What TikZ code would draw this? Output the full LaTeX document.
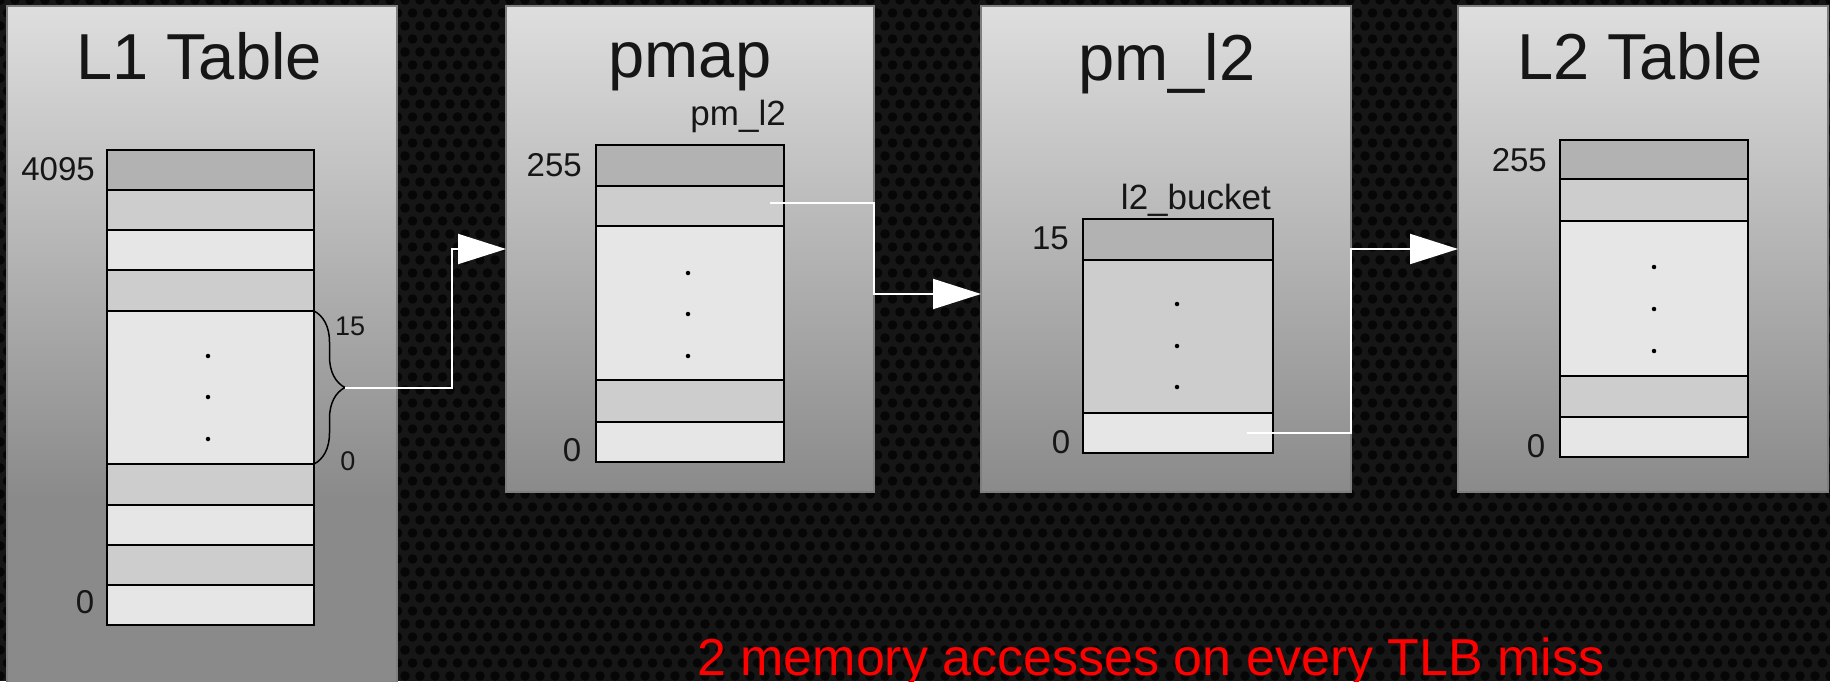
\documentclass[tikz,border=0pt]{standalone}
\usepackage{fontspec}
\setmainfont{Liberation Sans}
\usetikzlibrary{arrows.meta,decorations.pathreplacing,calc}

\definecolor{bgdark}{HTML}{161616}
\definecolor{meshhole}{HTML}{060606}
\definecolor{paneltop}{HTML}{DEDEDE}
\definecolor{panelbot}{HTML}{8A8A8A}
\definecolor{paneledge}{HTML}{7E7E7E}
\definecolor{celldark}{HTML}{B2B2B2}
\definecolor{cellmid}{HTML}{CDCDCD}
\definecolor{celllight}{HTML}{E6E6E6}
\definecolor{labelink}{HTML}{161616}
\definecolor{alertred}{HTML}{FF0000}

% the tall first panel fades to grey by the usual panel bottom, then stays flat
\pgfdeclareverticalshading{longpanel}{100bp}{color(0bp)=(panelbot); color(25bp)=(panelbot); color(39bp)=(panelbot); color(75bp)=(paneltop); color(100bp)=(paneltop)}

% one table row: name, x-left, x-right, y-top, y-bottom, fill
\newcommand\tabcell[6]{%
  \node[cell, fill=#6, minimum width={#3-#2}, minimum height={#5-#4}] (#1) at ({(#2+#3)/2},{(#4+#5)/2}) {};}

\tikzset{
  panel/.style={draw=paneledge, line width=1.2pt, inner sep=0pt, outer sep=0pt},
  cell/.style={draw=black, line width=2pt, inner sep=0pt, outer sep=0pt},
  title/.style={font=\fontsize{65}{65}\selectfont, text=labelink, inner sep=0pt, anchor=base},
  idx/.style={font=\fontsize{33}{33}\selectfont, text=labelink, inner sep=0pt},
  smallidx/.style={font=\fontsize{27}{27}\selectfont, text=labelink, inner sep=0pt},
  field/.style={font=\fontsize{35}{35}\selectfont, text=labelink, inner sep=0pt, anchor=base east},
  vdot/.style={circle, fill=black, inner sep=0pt, minimum size=4.5pt},
  conn/.style={draw=white, line width=2pt, -{Triangle[length=48pt,width=30pt,fill=white]}},
}

\begin{document}
\begin{tikzpicture}[x=1pt, y=-1pt]
\useasboundingbox (0,0) rectangle (1830,681);

% perforated dark backdrop
\fill[bgdark] (0,0) rectangle (1830,681);
\foreach \r in {0,...,53}{
  \foreach \c in {0,...,122}{
    \fill[meshhole] ({\c*15+mod(\r,2)*7.5},{\r*13}) circle (4.8);
  }
}

% panels
\node[panel, shading=longpanel, minimum width=390, minimum height=684] (l1P) at (202,348) {};
\node[panel, top color=paneltop, bottom color=panelbot, minimum width=368, minimum height=486] (pmapP) at (690,249) {};
\node[panel, top color=paneltop, bottom color=panelbot, minimum width=370, minimum height=486] (pml2P) at (1166,249) {};
\node[panel, top color=paneltop, bottom color=panelbot, minimum width=370, minimum height=486] (l2P) at (1643,249) {};

% titles
\node[title] (l1T) at (199,79) {L1 Table};
\node[title] (pmapT) at (690,77) {pmap};
\node[title] (pml2T) at (1167,80) {pm\_l2};
\node[title] (l2T) at (1640,79) {L2 Table};

% L1 table
\tabcell{a1}{107}{314}{150}{190}{celldark}
\tabcell{a2}{107}{314}{190}{230}{cellmid}
\tabcell{a3}{107}{314}{230}{270}{celllight}
\tabcell{a4}{107}{314}{270}{311}{cellmid}
\tabcell{a5}{107}{314}{311}{464}{celllight}
\tabcell{a6}{107}{314}{464}{505}{cellmid}
\tabcell{a7}{107}{314}{505}{545}{celllight}
\tabcell{a8}{107}{314}{545}{585}{cellmid}
\tabcell{a9}{107}{314}{585}{625}{celllight}
\node[vdot] (ad1) at (208,356) {};
\node[vdot] (ad2) at (208,397) {};
\node[vdot] (ad3) at (208,439) {};
\node[idx, anchor=base east] (a4095) at (95,180) {4095};
\node[idx, anchor=base] (a0) at (85,613) {0};
\draw[black, line width=1.5pt, decorate, decoration={brace, amplitude=31pt}] (a5.north east) -- (a5.south east);
\coordinate (bt) at ($(a5.east)+(31,0)$);
\node[smallidx, anchor=base west] (b15) at (335,335) {15};
\node[smallidx, anchor=base] (b0) at (348,470) {0};

% pmap table
\tabcell{p1}{596}{784}{145}{186}{celldark}
\tabcell{p2}{596}{784}{186}{226}{cellmid}
\tabcell{p3}{596}{784}{226}{380}{celllight}
\tabcell{p4}{596}{784}{380}{422}{cellmid}
\tabcell{p5}{596}{784}{422}{462}{celllight}
\node[vdot] (pd1) at (688,273) {};
\node[vdot] (pd2) at (688,314) {};
\node[vdot] (pd3) at (688,356) {};
\node[idx, anchor=base east] (p255) at (582,176) {255};
\node[idx, anchor=base] (p0) at (572,461) {0};
\node[field] (pfield) at (786,125) {pm\_l2};

% pm_l2 table
\tabcell{q1}{1083}{1273}{219}{260}{celldark}
\tabcell{q2}{1083}{1273}{260}{413}{cellmid}
\tabcell{q3}{1083}{1273}{413}{453}{celllight}
\node[vdot] (qd1) at (1177,304) {};
\node[vdot] (qd2) at (1177,346) {};
\node[vdot] (qd3) at (1177,387) {};
\node[idx, anchor=base east] (q15) at (1069,249) {15};
\node[idx, anchor=base] (q0) at (1061,453) {0};
\node[field] (qfield) at (1271,209) {l2\_bucket};

% L2 table
\tabcell{r1}{1560}{1748}{140}{179}{celldark}
\tabcell{r2}{1560}{1748}{179}{221}{cellmid}
\tabcell{r3}{1560}{1748}{221}{376}{celllight}
\tabcell{r4}{1560}{1748}{376}{417}{cellmid}
\tabcell{r5}{1560}{1748}{417}{457}{celllight}
\node[vdot] (rd1) at (1654,267) {};
\node[vdot] (rd2) at (1654,309) {};
\node[vdot] (rd3) at (1654,351) {};
\node[idx, anchor=base east] (r255) at (1547,171) {255};
\node[idx, anchor=base] (r0) at (1536,457) {0};

% pointers between the levels
\coordinate (mid1) at ($(l1P.east)!0.5!(pmapP.west)$);
\draw[conn] (bt) -- (bt -| mid1) |- (pmapP.west);
\coordinate (s2) at ([xshift=-14pt,yshift=3pt]p2.east);
\draw[conn] (s2) -- (s2 -| pmapP.east) |- ([yshift=-45pt]pml2P.west);
\coordinate (s3) at ([xshift=-26pt]q3.east);
\draw[conn] (s3) -- (s3 -| pml2P.east) |- (l2P.west);

% note
\node[font=\fontsize{52}{52}\selectfont, text=alertred, inner sep=0pt, anchor=base west] (note) at (697,675) {2 memory accesses on every TLB miss};
\end{tikzpicture}
\end{document}
